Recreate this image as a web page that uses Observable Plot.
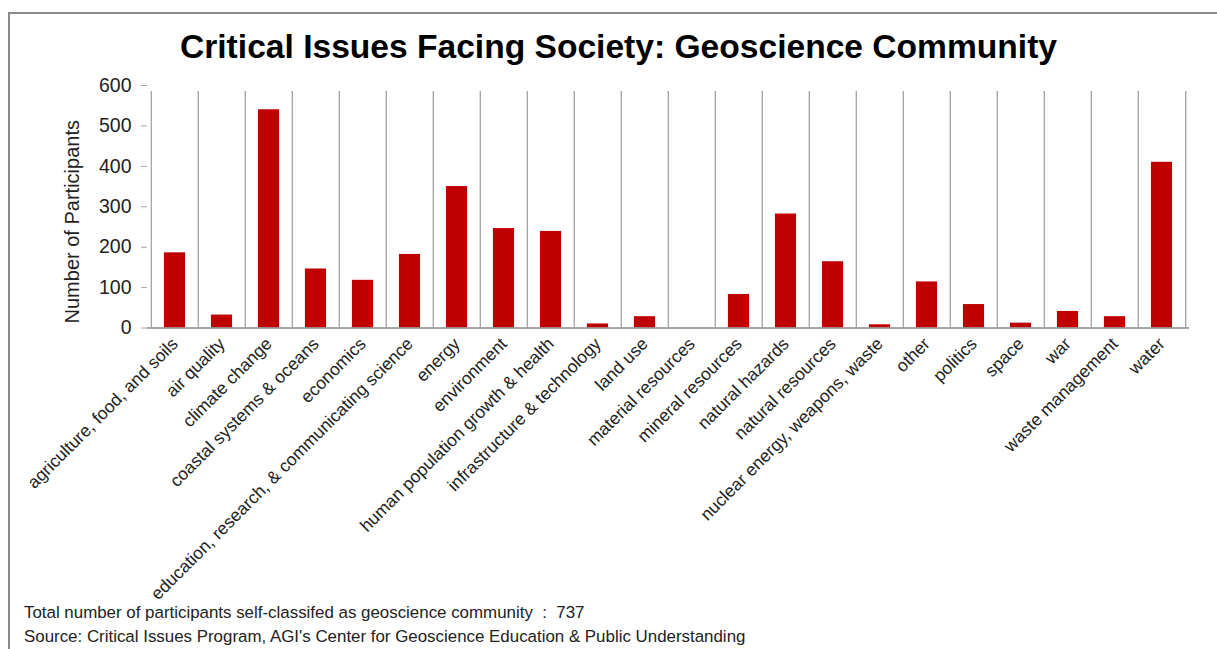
<!DOCTYPE html>
<html>
<head>
<meta charset="utf-8">
<script src="https://cdn.jsdelivr.net/npm/d3@7"></script>
<script src="https://cdn.jsdelivr.net/npm/@observablehq/plot@0.6"></script>
<style>
  html, body { margin: 0; padding: 0; background: #fff; width: 1217px; height: 649px; overflow: hidden; }
  body { position: relative; font-family: "Liberation Sans", Arial, sans-serif; }
  #frame { position: absolute; left: 8px; top: 12px; width: 1300px; height: 700px;
           border-left: 2px solid #8a8a8a; border-top: 2px solid #8a8a8a; }
  #title { position: absolute; left: 10px; top: 27px; width: 1217px; text-align: center;
           font-size: 33.6px; font-weight: bold; color: #000; line-height: 40px; }
  #chart { position: absolute; left: 0; top: 75px; }
  .cap { position: absolute; left: 24px; font-size: 16.9px; color: #222; line-height: 20px; white-space: nowrap; }
</style>
</head>
<body>
<div id="frame"></div>
<div id="title">Critical Issues Facing Society: Geoscience Community</div>
<div id="chart"></div>
<div class="cap" id="cap1" style="top:603px">Total number of participants self-classifed as geoscience community&nbsp; :&nbsp; 737</div>
<div class="cap" id="cap2" style="top:627px">Source: Critical Issues Program, AGI's Center for Geoscience Education &amp; Public Understanding</div>
<script>
const categories = [
  "agriculture, food, and soils", "air quality", "climate change", "coastal systems & oceans",
  "economics", "education, research, & communicating science", "energy", "environment",
  "human population growth & health", "infrastructure & technology", "land use",
  "material resources", "mineral resources", "natural hazards", "natural resources",
  "nuclear energy, weapons, waste", "other", "politics", "space", "war",
  "waste management", "water"
];
const counts = [186, 32, 540, 146, 118, 182, 350, 246, 239, 10, 28, 0, 83, 282, 164, 8, 114, 58, 12, 41, 28, 410];
const yTicks = [0, 100, 200, 300, 400, 500, 600];
const yLabel = "Number of Participants";

const data = categories.map((c, i) => ({category: c, count: counts[i]}));

const W = 1217, ML = 147, MR = 28;
const step = (W - ML - MR) / categories.length;
const barW = step / 2.2;
const inset = (step - barW) / 2;

const chart = Plot.plot({
  width: W,
  height: 512,
  marginTop: 10,
  marginLeft: ML,
  marginRight: MR,
  marginBottom: 259.5,
  style: {fontFamily: "'Liberation Sans', Arial, sans-serif", fontSize: "17.5px", color: "#222", background: "transparent", overflow: "visible"},
  x: {domain: categories, type: "band", padding: 0, label: null},
  y: {domain: [0, 600], label: null},
  marks: [
    Plot.ruleX(categories, {x: d => d, y1: 0, y2: 600, dx: -step / 2, stroke: "#a8a8a8", strokeWidth: 1.4, insetBottom: -6}),
    Plot.ruleX(categories.slice(-1), {x: d => d, y1: 0, y2: 600, dx: step / 2, stroke: "#a8a8a8", strokeWidth: 1.4, insetBottom: -6}),
    Plot.barY(data, {x: "category", y: "count", fill: "#C00000", insetLeft: inset, insetRight: inset}),
    Plot.ruleY([0], {stroke: "#8a8a8a", strokeWidth: 1.4}),
    Plot.axisY({ticks: yTicks, tickSize: 6, tickPadding: 10, stroke: "#a8a8a8", fill: "#222", fontSize: 19.5, label: null}),
    Plot.text([yLabel], {frameAnchor: "left", textAnchor: "middle", lineAnchor: "middle", text: d => d, rotate: -90, dx: -75, dy: 15, fontSize: 20, fill: "#222"}),
    Plot.axisX({tickRotate: -45, tickSize: 0, tickPadding: 13, fill: "#222", fontSize: 17.5, label: null})
  ]
});
document.getElementById("chart").appendChild(chart);
</script>
</body>
</html>
